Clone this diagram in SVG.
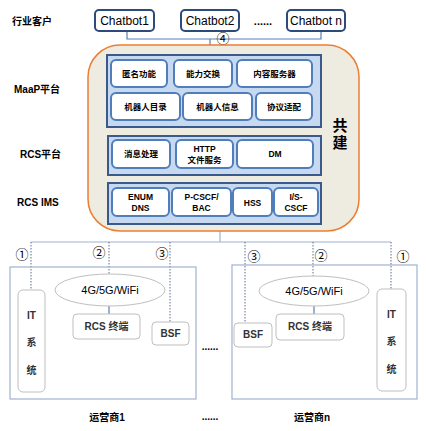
<svg xmlns="http://www.w3.org/2000/svg" width="426" height="431" viewBox="0 0 426 431">
<style>
text{font-family:"Liberation Sans","Noto Sans CJK SC",sans-serif;fill:#000;}
.lbl{font-size:10px;font-weight:bold;}
.bot{fill:#fff;stroke:#2E4A7A;stroke-width:2;}
.bt{font-size:12px;text-anchor:middle;}
.panel{fill:#C6D9F0;stroke:#3A5A8C;stroke-width:2;}
.cell{fill:#fff;stroke:#4F7EBA;stroke-width:2;}
.ct{font-size:8.5px;font-weight:bold;text-anchor:middle;}
.op{fill:none;stroke:#A0B2CF;stroke-width:1.2;}
.g{fill:#fff;stroke:#BFBFBF;stroke-width:1;}
.gt{font-size:10px;font-weight:bold;text-anchor:middle;fill:#333;}
.num{font-family:"Noto Sans CJK SC","DejaVu Sans",sans-serif;font-size:13px;text-anchor:middle;}
.dot{stroke:#5A6E91;stroke-width:1;stroke-dasharray:1.5 1.5;fill:none;}
.ln{stroke:#5A7FB5;stroke-width:1.2;fill:none;}
.ln2{stroke:#A0B2CF;stroke-width:1.2;fill:none;}
</style>

<!-- left labels -->
<text class="lbl" x="12" y="25">行业客户</text>
<text class="lbl" x="14" y="93">MaaP平台</text>
<text class="lbl" x="20" y="158">RCS平台</text>
<text class="lbl" x="17" y="206">RCS IMS</text>

<!-- connectors -->
<g id="connectors">
<path class="ln" d="M127 31V39H321V31M210 39V45"/>
<path class="ln2" d="M220 231V242M31 242H391"/>
<path class="ln" d="M109 306V314M314 306V314"/>
<path class="dot" d="M31 242V290M109 242V274M170 242V322M245 242V323M313 242V276M391 242V289"/>
</g>

<!-- chatbots -->
<g id="chatbot1"><rect class="bot" x="95" y="10" width="59" height="21" rx="4"/><text class="bt" x="124.5" y="25">Chatbot1</text></g>
<g id="chatbot2"><rect class="bot" x="181" y="10" width="58" height="21" rx="4"/><text class="bt" x="210" y="25">Chatbot2</text></g>
<text x="263" y="25" font-size="11" text-anchor="middle" font-weight="bold">......</text>
<g id="chatbotn"><rect class="bot" x="287" y="10" width="58" height="21" rx="4"/><text class="bt" x="316" y="25">Chatbot n</text></g>
<text class="num" x="223" y="43">④</text>

<!-- joint build platform -->
<g id="platform">
<rect x="88" y="45" width="271" height="186" rx="32" fill="#EEEBE1" stroke="#ED7D31" stroke-width="1.5"/>
<text x="340" y="131" font-size="15" font-weight="bold" text-anchor="middle">共</text>
<text x="340" y="148" font-size="15" font-weight="bold" text-anchor="middle">建</text>
</g>

<g id="maap">
<rect class="panel" x="107" y="55" width="214" height="72"/>
<rect class="cell" x="111" y="60" width="56" height="27" rx="5"/><text class="ct" x="139" y="77">匿名功能</text>
<rect class="cell" x="174" y="60" width="58" height="27" rx="5"/><text class="ct" x="203" y="77">能力交换</text>
<rect class="cell" x="237" y="60" width="75" height="27" rx="5"/><text class="ct" x="274.5" y="77">内容服务器</text>
<rect class="cell" x="111" y="93" width="69" height="27" rx="5"/><text class="ct" x="145.5" y="110">机器人目录</text>
<rect class="cell" x="183" y="93" width="69" height="27" rx="5"/><text class="ct" x="217.5" y="110">机器人信息</text>
<rect class="cell" x="256" y="93" width="56" height="27" rx="5"/><text class="ct" x="284" y="110">协议适配</text>
</g>

<g id="rcs">
<rect class="panel" x="108" y="136" width="213" height="39"/>
<rect class="cell" x="112" y="140" width="58" height="28" rx="5"/><text class="ct" x="141" y="157">消息处理</text>
<rect class="cell" x="176" y="140" width="57" height="28" rx="5"/><text class="ct" x="204.5" y="152">HTTP</text><text class="ct" x="204.5" y="163">文件服务</text>
<rect class="cell" x="237" y="140" width="76" height="28" rx="5"/><text class="ct" x="275" y="157">DM</text>
</g>

<g id="ims">
<rect class="panel" x="108" y="183" width="213" height="41"/>
<rect class="cell" x="112" y="188" width="57" height="28" rx="5"/><text class="ct" x="140.5" y="200">ENUM</text><text class="ct" x="140.5" y="211">DNS</text>
<rect class="cell" x="172" y="188" width="59" height="28" rx="5"/><text class="ct" x="201.5" y="200">P-CSCF/</text><text class="ct" x="201.5" y="211">BAC</text>
<rect class="cell" x="233" y="188" width="39" height="28" rx="5"/><text class="ct" x="252.5" y="206">HSS</text>
<rect class="cell" x="274" y="188" width="44" height="28" rx="5"/><text class="ct" x="296" y="200">I/S-</text><text class="ct" x="296" y="211">CSCF</text>
</g>

<!-- circled numbers -->
<g id="nums">
<text class="num" x="22" y="259">①</text>
<text class="num" x="99" y="257">②</text>
<text class="num" x="162" y="258">③</text>
<text class="num" x="254" y="261">③</text>
<text class="num" x="321" y="260">②</text>
<text class="num" x="403" y="261">①</text>
</g>

<!-- operator 1 -->
<g id="operator1">
<rect class="op" x="10" y="267" width="186" height="132"/>
<rect class="g" x="18" y="290" width="27" height="102" rx="5"/>
<text class="gt" x="31.5" y="319">IT</text><text class="gt" x="31.5" y="346">系</text><text class="gt" x="31.5" y="374">统</text>
<ellipse class="g" cx="110" cy="290" rx="55" ry="16"/>
<text x="110" y="294" font-size="11" text-anchor="middle" fill="#222">4G/5G/WiFi</text>
<rect class="g" x="73" y="314" width="67" height="25" rx="4"/>
<text class="gt" x="106.5" y="330">RCS 终端</text>
<rect class="g" x="152" y="322" width="37" height="23" rx="4"/>
<text class="gt" x="170.5" y="337">BSF</text>
<text class="lbl" x="107" y="421" text-anchor="middle">运营商1</text>
</g>

<text x="210" y="350" font-size="10" font-weight="bold" text-anchor="middle">......</text>
<text x="210" y="420" font-size="10" font-weight="bold" text-anchor="middle">......</text>

<!-- operator n -->
<g id="operatorn">
<rect class="op" x="232" y="265" width="185" height="134"/>
<ellipse class="g" cx="314" cy="291" rx="55" ry="15"/>
<text x="314" y="295" font-size="11" text-anchor="middle" fill="#222">4G/5G/WiFi</text>
<rect class="g" x="276" y="314" width="68" height="26" rx="4"/>
<text class="gt" x="310" y="330">RCS 终端</text>
<rect class="g" x="234" y="323" width="38" height="24" rx="4"/>
<text class="gt" x="253" y="338">BSF</text>
<rect class="g" x="377" y="289" width="29" height="102" rx="5"/>
<text class="gt" x="391.5" y="318">IT</text><text class="gt" x="391.5" y="345">系</text><text class="gt" x="391.5" y="373">统</text>
<text class="lbl" x="312" y="421" text-anchor="middle">运营商n</text>
</g>
</svg>
